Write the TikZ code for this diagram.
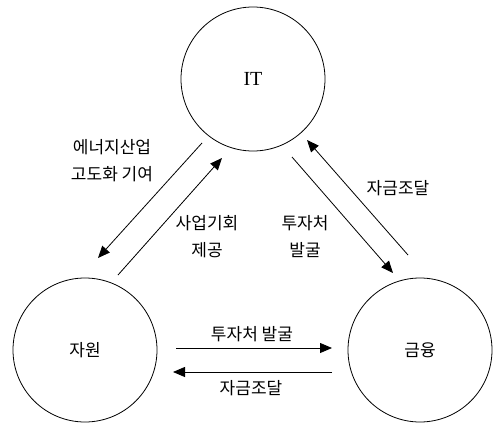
\documentclass[tikz,border=0pt]{standalone}
\usepackage{fontspec}
\setmainfont{Liberation Serif}
\newfontfamily\krfont{Noto Sans CJK KR}
\usetikzlibrary{arrows.meta,positioning}

\begin{document}
\begin{tikzpicture}[x=1pt,y=-1pt,
  sector/.style={draw,circle,minimum size=144pt,inner sep=0pt,line width=0.8pt},
  arr/.style={-{Triangle[length=12pt,width=10pt]},line width=0.8pt},
  lbl/.style={font=\krfont\fontsize{17}{27}\selectfont,align=center}]
  \useasboundingbox (0,0) rectangle (496,423);
  % sectors
  \node[sector,font=\fontsize{20}{24}\selectfont] (IT) at (253,79) {IT};
  \node[sector,lbl] (res) at (85,350) {자원};
  \node[sector,lbl] (fin) at (420,350) {금융};
  % IT <-> 자원
  \draw[arr] ([shift={(-51,64)}]IT.center) -- ([shift={(13,-92)}]res.center);
  \draw[arr] ([shift={(33,-75)}]res.center) -- ([shift={(-31,79)}]IT.center);
  % IT <-> 금융
  \draw[arr] ([shift={(39,78)}]IT.center) -- ([shift={(-27,-77)}]fin.center);
  \draw[arr] ([shift={(-12,-95)}]fin.center) -- ([shift={(54,61)}]IT.center);
  % 자원 <-> 금융
  \draw[arr] ([shift={(91,-2)}]res.center) -- ([shift={(-88,-2)}]fin.center);
  \draw[arr] ([shift={(-88,22)}]fin.center) -- ([shift={(88,22)}]res.center);
  % labels
  \node[lbl] (l1) at (112,161) {에너지산업\\고도화 기여};
  \node[lbl] (l2) at (207,237) {사업기회\\제공};
  \node[lbl] (l3) at (305,237) {투자처\\발굴};
  \node[lbl] (l4) at (398,188) {자금조달};
  \node[lbl] (l5) at (252,334) {투자처 발굴};
  \node[lbl] (l6) at (251,388) {자금조달};
\end{tikzpicture}
\end{document}
